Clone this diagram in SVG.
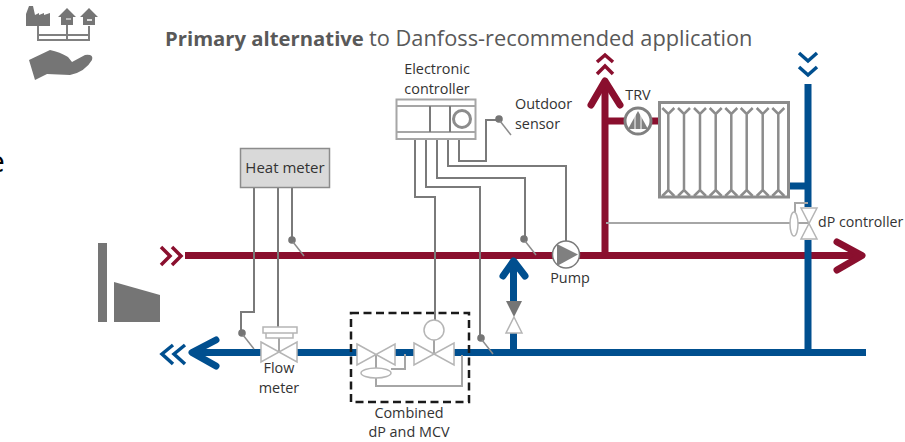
<svg xmlns="http://www.w3.org/2000/svg" width="905" height="442" viewBox="0 0 905 442">
<style>
text{font-family:"Open Sans","Noto Sans","Liberation Sans",sans-serif;font-size:14.400px;fill:#333}
.m{text-anchor:middle}
.red{stroke:#8a0f2e;stroke-width:7;fill:none}
.blue{stroke:#004f8f;stroke-width:7;fill:none}
.hr{stroke:#8a0f2e;stroke-width:7;fill:none;stroke-linecap:round;stroke-linejoin:round}
.hb{stroke:#004f8f;stroke-width:7;fill:none;stroke-linecap:round;stroke-linejoin:round}
.cr{stroke:#8a0f2e;stroke-width:3.500;fill:none}
.cb{stroke:#004f8f;stroke-width:3.500;fill:none}
.w{stroke:#7a7a7a;stroke-width:2;fill:none}
.l{stroke:#a6a6a6;stroke-width:2;fill:none}
.t{stroke:#8c8c8c;stroke-width:1.500;fill:none}
.v{stroke:#b5b5b5;stroke-width:1.500;fill:#fff}
.g{fill:#757575}
.rad{stroke:#8c8c8c;stroke-width:2.500;fill:none}
</style>
<defs>
<g id="sensor"><circle r="3.800" class="g"/><path d="M1 2L12 16" class="t"/></g>
<g id="tube"><path d="M0 9V85M-6 3L0 9L6 3M-6 91L0 85L6 91" class="rad"/></g>
</defs>

<g id="logo">
<path class="g" d="M26 26V14L29 6H33L35 15L39 13V15L44 13V15L50 13V26Z"/>
<path class="g" d="M58 17L67 8L76 17H73V25H61V17Z"/>
<path class="g" d="M80 17L89 8L98 17H95V25H83V17Z"/>
<path d="M66 19H71" stroke="#bbb" stroke-width="2"/>
<path d="M87 20H92" stroke="#ddd" stroke-width="2"/>
<path d="M38 26V40H89V26M67 25V40M38 35H89" stroke="#808080" stroke-width="2" fill="none"/>
<path class="g" d="M29 60L50 50Q60 52 68 57L72 62L85 55Q94 54 92 60Q85 72 70 75L47 74L35 80Z"/>
</g>
<text id="title" y="46" style="fill:#595959"><tspan x="165" font-weight="700" style="font-size:20.300px">Primary alternative</tspan><tspan x="369" style="font-size:21.800px">to Danfoss-recommended application</tspan></text>
<text id="cut-letter" x="-12" y="172" style="font-size:30px;fill:#000">e</text>

<g id="source">
<rect x="98" y="243" width="9" height="79" class="g"/>
<path class="g" d="M114 282L160 295V322H114Z"/>
</g>

<g id="connectors">
<path class="cr" d="M161 247L170 256L161 265M172 247L181 256L172 265"/>
<path class="red" d="M185 255.500H860M605 255V84M625 121H605M652 121H659"/>
<path class="hr" d="M837 242L862 255.500L837 270M591 105L605 81L620 105"/>
<path class="cr" d="M597 62L605 55L613 62M597 74L605 66L613 74"/>
<path class="cb" d="M799 53L808 61L817 53M799 67L808 75L817 67"/>
<path class="blue" d="M808 84V207M808 240V352M789 186H808"/>
<path class="blue" d="M195 352.500H262M297 352.500H358M394 352.500H416M453 352.500H866M513.500 352V333M513.500 301V262"/>
<path class="hb" d="M216 340L192 352.500L216 366M503 276L513.500 261L525 276"/>
<path class="cb" d="M173 345L162 354L173 364M185 345L174 354L185 364"/>
<path class="w" d="M254 188V312H241V333M278 188V327M292 188V240"/>
<path class="w" d="M415 139V197H435V320M426 139V187H480V338M437 139V178H525V239M448 139V166H566V241M459 139V161H486V120H499"/>
<path class="l" d="M606 223H790M795 212V203H808M376 354V368M391 369H405V354M376 378V386H462V355M434 340V354M279 338V352M798 223H809"/>
<use href="#sensor" x="292" y="240"/>
<use href="#sensor" x="242" y="333"/>
<use href="#sensor" x="481" y="338"/>
<use href="#sensor" x="524" y="239"/>
<use href="#sensor" x="499" y="119"/>
</g>

<g id="heat-meter"><rect x="240.500" y="148.500" width="89" height="39" fill="#d9d9d9" stroke="#8c8c8c" stroke-width="1.500"/><text class="m" x="285" y="173" style="font-size:15px">Heat meter</text></g>

<g id="controller">
<rect x="396.500" y="99.500" width="79" height="39.500" fill="#fff" class="l"/>
<path class="l" d="M397 106H475M397 132H475"/>
<path d="M430 106V132M450 106V132" class="w"/>
<circle cx="462" cy="119" r="8.500" fill="none" stroke="#8c8c8c" stroke-width="3"/>
<text class="m" x="437" y="74">Electronic</text><text class="m" x="437" y="94">controller</text>
</g>
<g id="outdoor-sensor"><text x="515" y="109">Outdoor</text><text x="515" y="129">sensor</text></g>

<g id="pump"><circle cx="566" cy="254.500" r="13.500" fill="#fff" stroke="#7a7a7a" stroke-width="1.500"/><path d="M557 244L578 254.500L557 266Z" fill="#808080"/><text class="m" x="570" y="283">Pump</text></g>

<g id="trv"><circle cx="638" cy="121" r="13" fill="#fff" stroke="#808080" stroke-width="3"/><path d="M628 129L638 111L648 129Z" fill="#808080"/><path d="M635 114V130M641 114V130" stroke="#fff" stroke-width="1"/><text class="m" x="638" y="100">TRV</text></g>

<g id="radiator">
<rect x="659.500" y="102.500" width="129" height="94.500" fill="#fff" stroke="#8c8c8c" stroke-width="3"/>
<use href="#tube" x="668.300" y="105"/><use href="#tube" x="684" y="105"/><use href="#tube" x="700" y="105"/><use href="#tube" x="715.700" y="105"/><use href="#tube" x="731.300" y="105"/><use href="#tube" x="746.700" y="105"/><use href="#tube" x="762.700" y="105"/><use href="#tube" x="778.300" y="105"/>
</g>

<g id="dp-controller">
<path class="v" d="M801 208H817L801 239H817Z"/>
<ellipse cx="794" cy="224" rx="4" ry="12" class="v"/>
<text x="818" y="227" style="font-size:14.200px">dP controller</text>
</g>

<g id="flow-meter">
<path class="v" d="M261 342L297 362V342L261 362Z"/>
<path class="v" d="M263 327H297V333H263ZM266 333H293V338H266Z"/>
<text class="m" x="279" y="373">Flow</text><text class="m" x="279" y="393">meter</text>
</g>

<g id="balancing-valve">
<path d="M506 301H522L514 317Z" fill="#757575"/>
<path class="v" d="M514 317L522 333H506Z"/>
</g>

<g id="combined-valve">
<path class="v" d="M357 344L395 365V344L357 365Z"/>
<path class="v" d="M414 343L454 365V343L414 365Z"/>
<circle cx="434" cy="330" r="10" class="v"/>
<ellipse cx="376" cy="373" rx="15" ry="5" class="v"/>
<rect x="351" y="313" width="118" height="89" fill="none" stroke="#1a1a1a" stroke-width="2.500" stroke-dasharray="8 4.500"/>
<text class="m" x="409" y="418">Combined</text><text class="m" x="409" y="437">dP and MCV</text>
</g>
</svg>
